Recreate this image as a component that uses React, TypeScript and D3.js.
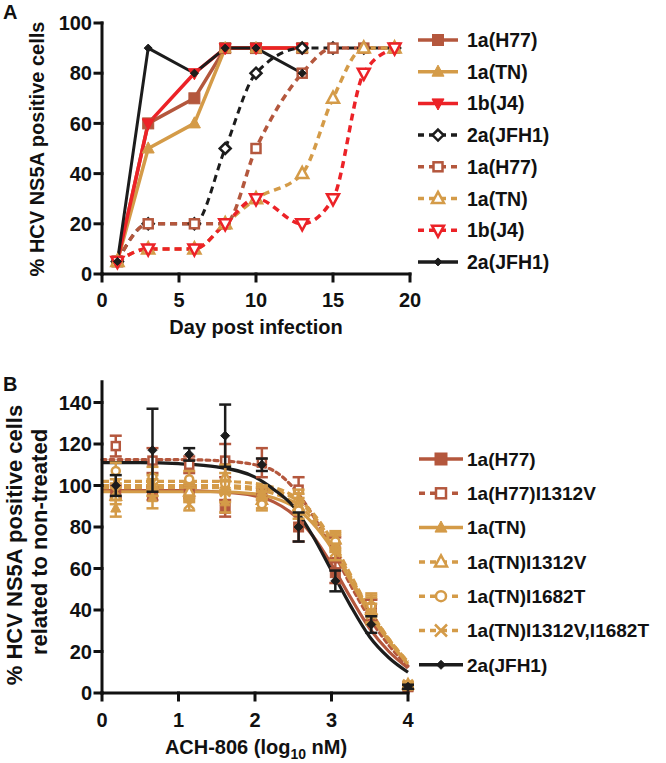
import React from 'react';
import * as d3 from 'd3';

const BROWN = '#B4573D';
const TAN = '#D49B48';
const RED = '#EC2227';
const BLACK = '#1C1C1C';
const FONT = "'Liberation Sans', Arial, Helvetica, sans-serif";

// ---------- Panel A data ----------
const daysSolid = [1, 3, 6, 8, 10, 13];
const daysDashed = [1, 3, 6, 8, 10, 13, 15, 17, 19];
const aH77 = [5, 60, 70, 90, 90, 90];
const aTN = [5, 50, 60, 90, 90, 90];
const aJ4 = [5, 60, 80, 90, 90, 90];
const aJFH1 = [5, 90, 80, 90, 90, 80];
const aJFH1d = [5, 20, 20, 50, 80, 90, 90, 90, 90];
const aH77d = [5, 20, 20, 20, 50, 80, 90, 90, 90];
const aTNd = [5, 10, 10, 20, 30, 40, 70, 90, 90];
const aJ4d = [5, 10, 10, 20, 30, 20, 30, 80, 90];
const xTicksA = [0, 5, 10, 15, 20];
const yTicksA = [0, 20, 40, 60, 80, 100];

// ---------- Panel B data ----------
const doseLog = [0.18, 0.66, 1.14, 1.61, 2.09, 2.57, 3.05, 3.52, 4.0];
const fitX = [0, 0.5, 1, 1.5, 2, 2.25, 2.5, 2.75, 3, 3.25, 3.5, 3.75, 4];
const bH77 = [97, 96, 97, 89, 96, 80, 58, 40, 3];
const bH77e = [3, 3, 3, 4, 3, 7, 5, 5, 1];
const bH77fit = [97.5, 97.5, 97.5, 97, 95, 92, 86, 76, 62, 46, 31, 20, 12];
const bH77V = [119, 112, 110, 112, 111, 98, 70, 40, 3];
const bH77Ve = [5, 6, 4, 8, 7, 6, 5, 5, 1];
const bH77Vfit = [112.5, 112.5, 112.5, 112, 110, 107, 99, 86, 70, 52, 36, 23, 13];
const bTN = [89, 94, 96, 92, 97, 92, 72, 43, 3];
const bTNe = [4, 5, 4, 5, 3, 4, 4, 5, 1];
const bTNfit = [97, 97, 97, 97, 96, 94, 90, 82, 70, 54, 38, 25, 14];
const bTNV = [95, 100, 97, 104, 93, 90, 74, 40, 4];
const bTNVe = [4, 5, 4, 6, 4, 4, 4, 6, 1];
const bTNVfit = [102, 102, 102, 102, 101, 99, 95, 87, 74, 57, 40, 26, 15];
const bTNI = [107, 104, 103, 101, 91, 88, 73, 42, 4];
const bTNIe = [4, 5, 4, 5, 3, 4, 4, 5, 1];
const bTNIfit = [100, 100, 100, 100, 99, 97.5, 94, 86, 73, 56, 40, 26, 15];
const bTNVI = [97, 99, 91, 97, 96, 95, 68, 38, 4];
const bTNVIe = [4, 4, 3, 5, 3, 3, 4, 5, 1];
const bTNVIfit = [99, 99, 99, 99, 98, 96, 92, 84, 71, 55, 39, 25, 14];
const bJFH1 = [100, 117, 115, 124, 110, 80, 54, 33, 3];
const bJFH1e = [5, 20, 3, 15, 3, 7, 5, 4, 1];
const bJFH1fit = [111, 111, 110.5, 109, 104, 98, 90, 76, 59, 42, 27, 17, 10];
const xTicksB = [0, 1, 2, 3, 4];
const yTicksB = [0, 20, 40, 60, 80, 100, 120, 140];

type Marker = 'square' | 'tri' | 'tridown' | 'diamond' | 'circle' | 'x';

const seriesA = [
  { name: '1a(H77)', color: BROWN, dash: null, marker: 'square' as Marker, filled: true, xs: daysSolid, ys: aH77, size: 11 },
  { name: '1a(TN)', color: TAN, dash: null, marker: 'tri' as Marker, filled: true, xs: daysSolid, ys: aTN, size: 12 },
  { name: '1b(J4)', color: RED, dash: null, marker: 'tridown' as Marker, filled: true, xs: daysSolid, ys: aJ4, size: 12 },
  { name: '2a(JFH1)', color: BLACK, dash: '7,5', marker: 'diamond' as Marker, filled: false, xs: daysDashed, ys: aJFH1d, size: 11 },
  { name: '1a(H77)', color: BROWN, dash: '7,5', marker: 'square' as Marker, filled: false, xs: daysDashed, ys: aH77d, size: 11 },
  { name: '1a(TN)', color: TAN, dash: '7,5', marker: 'tri' as Marker, filled: false, xs: daysDashed, ys: aTNd, size: 12 },
  { name: '1b(J4)', color: RED, dash: '7,5', marker: 'tridown' as Marker, filled: false, xs: daysDashed, ys: aJ4d, size: 12 },
  { name: '2a(JFH1)', color: BLACK, dash: null, marker: 'diamond' as Marker, filled: true, xs: daysSolid, ys: aJFH1, size: 8 },
];

const seriesB = [
  { name: '1a(H77)', color: BROWN, dash: null, marker: 'square' as Marker, filled: true, ys: bH77, es: bH77e, fit: bH77fit },
  { name: '1a(H77)I1312V', color: BROWN, dash: '4,4', marker: 'square' as Marker, filled: false, ys: bH77V, es: bH77Ve, fit: bH77Vfit },
  { name: '1a(TN)', color: TAN, dash: null, marker: 'tri' as Marker, filled: true, ys: bTN, es: bTNe, fit: bTNfit },
  { name: '1a(TN)I1312V', color: TAN, dash: '7,4', marker: 'tri' as Marker, filled: false, ys: bTNV, es: bTNVe, fit: bTNVfit },
  { name: '1a(TN)I1682T', color: TAN, dash: '7,4', marker: 'circle' as Marker, filled: false, ys: bTNI, es: bTNIe, fit: bTNIfit },
  { name: '1a(TN)I1312V,I1682T', color: TAN, dash: '7,4', marker: 'x' as Marker, filled: false, ys: bTNVI, es: bTNVIe, fit: bTNVIfit },
  { name: '2a(JFH1)', color: BLACK, dash: null, marker: 'diamond' as Marker, filled: true, ys: bJFH1, es: bJFH1e, fit: bJFH1fit },
];

function MarkerShape({ type, x, y, s, color, filled }: { type: Marker; x: number; y: number; s: number; color: string; filled: boolean }) {
  const fill = filled ? color : '#fff';
  const sw = filled ? 1 : 2.5;
  const h = s / 2;
  if (type === 'square') {
    const hh = filled ? h : h - 1;
    return <rect x={x - hh} y={y - hh} width={hh * 2} height={hh * 2} fill={fill} stroke={color} strokeWidth={sw} />;
  }
  if (type === 'tri') {
    const p = `M${x},${y - h * 1.1}L${x + h},${y + h * 0.75}L${x - h},${y + h * 0.75}Z`;
    return <path d={p} fill={fill} stroke={color} strokeWidth={sw} strokeLinejoin="miter" />;
  }
  if (type === 'tridown') {
    const p = `M${x},${y + h * 1.1}L${x + h},${y - h * 0.75}L${x - h},${y - h * 0.75}Z`;
    return <path d={p} fill={fill} stroke={color} strokeWidth={sw} />;
  }
  if (type === 'diamond') {
    const p = `M${x},${y - h}L${x + h},${y}L${x},${y + h}L${x - h},${y}Z`;
    return <path d={p} fill={fill} stroke={color} strokeWidth={sw} />;
  }
  if (type === 'circle') {
    return <circle cx={x} cy={y} r={h - 1} fill={fill} stroke={color} strokeWidth={sw} />;
  }
  return (
    <g stroke={color} strokeWidth={2.5}>
      <line x1={x - h} y1={y - h} x2={x + h} y2={y + h} />
      <line x1={x - h} y1={y + h} x2={x + h} y2={y - h} />
    </g>
  );
}

const txt = { fontFamily: FONT, fontWeight: 700 as const, fill: '#111' };

export default function App() {
  // Panel A scales
  const xA = d3.scaleLinear().domain([0, 20]).range([102, 410]);
  const yA = d3.scaleLinear().domain([0, 100]).range([274, 23]);
  // Panel B scales
  const xB = d3.scaleLinear().domain([0, 4]).range([102, 408]);
  const yB = d3.scaleLinear().domain([0, 150]).range([693, 381.75]);

  const legAy = (i: number) => 40 + i * 31.7;
  const legBy = (i: number) => 459 + i * 34.3;

  return (
    <svg width={666} height={763} style={{ position: 'absolute', left: 0, top: 0, background: '#fff' }}>
      <rect x={0} y={0} width={666} height={763} fill="#fff" />
      {/* ===== Panel A ===== */}
      <text x={3} y={19} fontSize={20} {...txt}>A</text>
      {seriesA.map((s, i) => {
        const pts = s.xs.map((d, j) => [xA(d), yA(s.ys[j])] as [number, number]);
        const gen = d3.line().curve(s.dash ? d3.curveMonotoneX : d3.curveLinear);
        return (
          <path key={'la' + i} d={gen(pts) || ''} fill="none" stroke={s.color}
            strokeWidth={s.color === BLACK ? 3 : 3.5} strokeDasharray={s.dash || undefined} strokeLinejoin="round" />
        );
      })}
      {seriesA.map((s, i) => (
        <g key={'ma' + i}>
          {s.xs.map((d, j) => (
            <MarkerShape key={j} type={s.marker} x={xA(d)} y={yA(s.ys[j])} s={s.size} color={s.color} filled={s.filled} />
          ))}
        </g>
      ))}
      <g stroke="#111" strokeWidth={3} strokeLinecap="square">
        <line x1={xA(0)} y1={yA(0)} x2={xA(0)} y2={yA(100)} />
        <line x1={xA(0)} y1={yA(0)} x2={xA(20)} y2={yA(0)} />
        {yTicksA.map((t) => <line key={'yt' + t} x1={xA(0) - 7} x2={xA(0)} y1={yA(t)} y2={yA(t)} />)}
        {xTicksA.map((t) => <line key={'xt' + t} x1={xA(t)} x2={xA(t)} y1={yA(0)} y2={yA(0) + 7} />)}
      </g>
      {yTicksA.map((t) => (
        <text key={'ytl' + t} x={xA(0) - 10} y={yA(t)} dy="0.36em" textAnchor="end" fontSize={20} {...txt}>{t}</text>
      ))}
      {xTicksA.map((t) => (
        <text key={'xtl' + t} x={xA(t)} y={307} textAnchor="middle" fontSize={20} {...txt}>{t}</text>
      ))}
      <text x={256} y={334} textAnchor="middle" fontSize={20} {...txt}>Day post infection</text>
      <text transform="translate(37,149) rotate(-90)" textAnchor="middle" dy="0.36em" fontSize={20} {...txt}>% HCV NS5A positive cells</text>
      {seriesA.map((s, i) => (
        <g key={'lga' + i}>
          <line x1={418} x2={458} y1={legAy(i)} y2={legAy(i)} stroke={s.color} strokeWidth={3.5}
            strokeDasharray={s.dash ? '6,5' : undefined} />
          <MarkerShape type={s.marker} x={438} y={legAy(i)} s={s.size} color={s.color} filled={s.filled} />
          <text x={467} y={legAy(i)} dy="0.36em" fontSize={19.5} {...txt}>{s.name}</text>
        </g>
      ))}

      {/* ===== Panel B ===== */}
      <text x={3} y={391} fontSize={20} {...txt}>B</text>
      {seriesB.map((s, i) => {
        const pts = fitX.map((d, j) => [xB(d), yB(s.fit[j])] as [number, number]);
        const gen = d3.line().curve(d3.curveMonotoneX);
        return (
          <path key={'lb' + i} d={gen(pts) || ''} fill="none" stroke={s.color} strokeWidth={3.2}
            strokeDasharray={s.dash || undefined} strokeLinecap={s.dash === '4,4' ? 'round' : 'butt'} />
        );
      })}
      {seriesB.map((s, i) => (
        <g key={'pb' + i}>
          {doseLog.map((d, j) => {
            const x = xB(d);
            const y0 = yB(s.ys[j] - s.es[j]);
            const y1 = yB(s.ys[j] + s.es[j]);
            return (
              <g key={j}>
                <g stroke={s.color} strokeWidth={2.5}>
                  <line x1={x} x2={x} y1={y0} y2={y1} />
                  <line x1={x - 6} x2={x + 6} y1={y0} y2={y0} />
                  <line x1={x - 6} x2={x + 6} y1={y1} y2={y1} />
                </g>
                <MarkerShape type={s.marker} x={x} y={yB(s.ys[j])} s={s.marker === 'diamond' ? 9 : 10} color={s.color} filled={s.filled} />
              </g>
            );
          })}
        </g>
      ))}
      <g stroke="#111" strokeWidth={3} strokeLinecap="square">
        <line x1={xB(0)} y1={yB(0)} x2={xB(0)} y2={yB(150)} />
        <line x1={xB(0)} y1={yB(0)} x2={xB(4)} y2={yB(0)} />
        {yTicksB.map((t) => <line key={'ytb' + t} x1={xB(0) - 7} x2={xB(0)} y1={yB(t)} y2={yB(t)} />)}
        {xTicksB.map((t) => <line key={'xtb' + t} x1={xB(t)} x2={xB(t)} y1={yB(0)} y2={yB(0) + 7} />)}
      </g>
      {yTicksB.map((t) => (
        <text key={'ytlb' + t} x={xB(0) - 10} y={yB(t)} dy="0.36em" textAnchor="end" fontSize={20} {...txt}>{t}</text>
      ))}
      {xTicksB.map((t) => (
        <text key={'xtlb' + t} x={xB(t)} y={727} textAnchor="middle" fontSize={20} {...txt}>{t}</text>
      ))}
      <text x={256} y={754} textAnchor="middle" fontSize={20} {...txt}>
        ACH-806 (log<tspan fontSize={14} dy={5}>10</tspan><tspan dy={-5}> nM)</tspan>
      </text>
      <text transform="translate(14,545) rotate(-90)" textAnchor="middle" dy="0.36em" fontSize={22} {...txt}>% HCV NS5A positive cells</text>
      <text transform="translate(39,542) rotate(-90)" textAnchor="middle" dy="0.36em" fontSize={22} {...txt}>related to non-treated</text>
      {seriesB.map((s, i) => (
        <g key={'lgb' + i}>
          <line x1={419} x2={463} y1={legBy(i)} y2={legBy(i)} stroke={s.color} strokeWidth={3.5}
            strokeDasharray={s.dash ? '6,5' : undefined} />
          <MarkerShape type={s.marker} x={441} y={legBy(i)} s={s.marker === 'diamond' ? 9 : 12} color={s.color} filled={s.filled} />
          <text x={467} y={legBy(i)} dy="0.36em" fontSize={19} {...txt}>{s.name}</text>
        </g>
      ))}
    </svg>
  );
}
